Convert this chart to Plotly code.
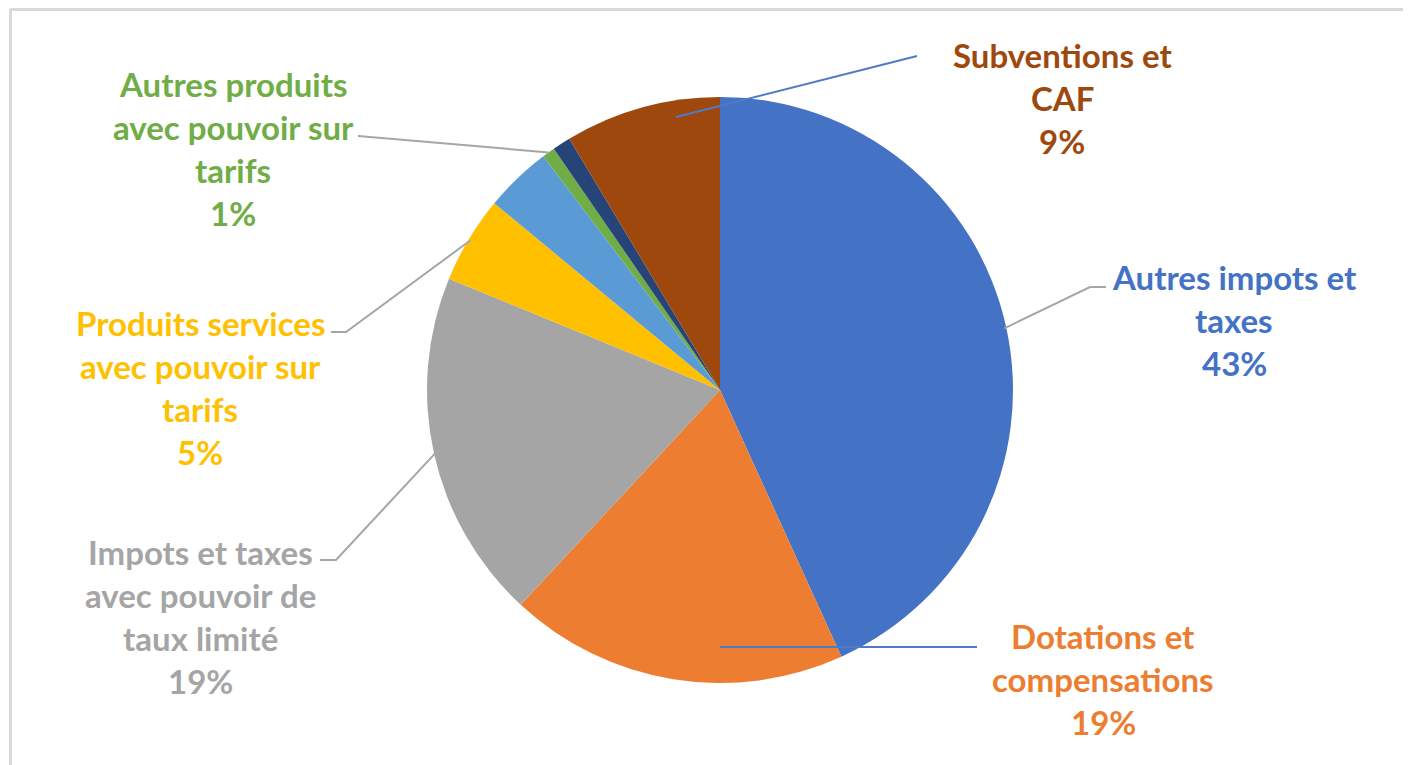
import math
import plotly.graph_objects as go

# The page body has an 8px margin: the figure is sized to fill the rest of the window
OFF = 8
W, H = 1411 - OFF, 765 - OFF

# ---- data ----
categories = [
    "Autres impots et taxes",
    "Dotations et compensations",
    "Impots et taxes avec pouvoir de taux limité",
    "Produits services avec pouvoir sur tarifs",
    "Autres recettes",
    "Autres produits avec pouvoir sur tarifs",
    "Produits divers",
    "Subventions et CAF",
]
values = [43.2, 18.7, 19.3, 4.8, 3.7, 0.7, 1.0, 8.6]
colors = ["#4472C4", "#ED7D31", "#A5A5A5", "#FFC000",
          "#5B9BD5", "#70AD47", "#264478", "#9E480E"]

# label lines (None = slice without label)
label_lines = [
    ["Autres impots et", "taxes"],
    ["Dotations et", "compensations"],
    ["Impots et taxes", "avec pouvoir de", "taux limité"],
    ["Produits services", "avec pouvoir sur", "tarifs"],
    None,
    ["Autres produits", "avec pouvoir sur", "tarifs"],
    None,
    ["Subventions et", "CAF"],
]

# ---- layout (page pixels) ----
CX, CY, R = 720, 390, 293
label_pos = [(1234, 277), (1103, 636), (201, 552), (200, 323), None, (233, 84), None, (1062, 55)]
LINE_PITCH = 43.0


def px(x):
    return (x - OFF) / W


def py(y):
    return 1 - (y - OFF) / H


total = sum(values)
cum = 0.0
mids = []
for v in values:
    mids.append((cum + v / 2) / total * 360.0)
    cum += v


def edge(i, r=R):
    a = math.radians(mids[i])
    return (CX + r * math.sin(a), CY - r * math.cos(a))


fig = go.Figure(go.Pie(
    labels=categories,
    values=values,
    sort=False,
    direction="clockwise",
    rotation=0,
    marker=dict(colors=colors, line=dict(width=0)),
    textinfo="none",
    hoverinfo="label+percent",
    domain=dict(x=[px(CX - R), px(CX + R)], y=[py(CY + R), py(CY - R)]),
    showlegend=False,
))

annotations = []
for i, lines in enumerate(label_lines):
    if lines is None:
        continue
    pct = f"{round(values[i] / total * 100)}%"
    x0, y0 = label_pos[i]
    for k, t in enumerate(lines + [pct]):
        annotations.append(dict(
            x=px(x0), y=py(y0 + k * LINE_PITCH), xref="paper", yref="paper",
            text=t, showarrow=False, xanchor="center", yanchor="middle",
            font=dict(family="Lato", size=33, color=colors[i], weight="bold"),
        ))

GRAY = "#A6A6A6"
BLUE = "#4E7AC7"
leaders = [
    ([edge(0, R - 2), (1090, 287), (1106, 287)], GRAY),
    ([(331, 332), (346, 332), edge(3, R - 2)], GRAY),
    ([(320, 560), (336, 560), edge(2, R - 2)], GRAY),
    ([(358, 136), edge(5, R)], GRAY),
    ([(676, 117), (917, 56)], BLUE),
    ([(720, 647), (977, 647)], BLUE),
]

shapes = []
for pts, col in leaders:
    path = "M " + " L ".join(f"{px(x):.5f},{py(y):.5f}" for x, y in pts)
    shapes.append(dict(type="path", xref="paper", yref="paper", path=path,
                       line=dict(color=col, width=2)))

# frame (top and left edges visible)
shapes.append(dict(type="line", xref="paper", yref="paper",
                   x0=px(10), x1=1.01, y0=py(9.5), y1=py(9.5),
                   line=dict(color="#D9D9D9", width=3)))
shapes.append(dict(type="line", xref="paper", yref="paper",
                   x0=px(10.5), x1=px(10.5), y0=py(9), y1=-0.01,
                   line=dict(color="#D9D9D9", width=3)))

fig.update_layout(
    width=W, height=H,
    margin=dict(l=0, r=0, t=0, b=0),
    paper_bgcolor="white",
    plot_bgcolor="white",
    annotations=annotations,
    shapes=shapes,
)

fig.write_html("out.html")
